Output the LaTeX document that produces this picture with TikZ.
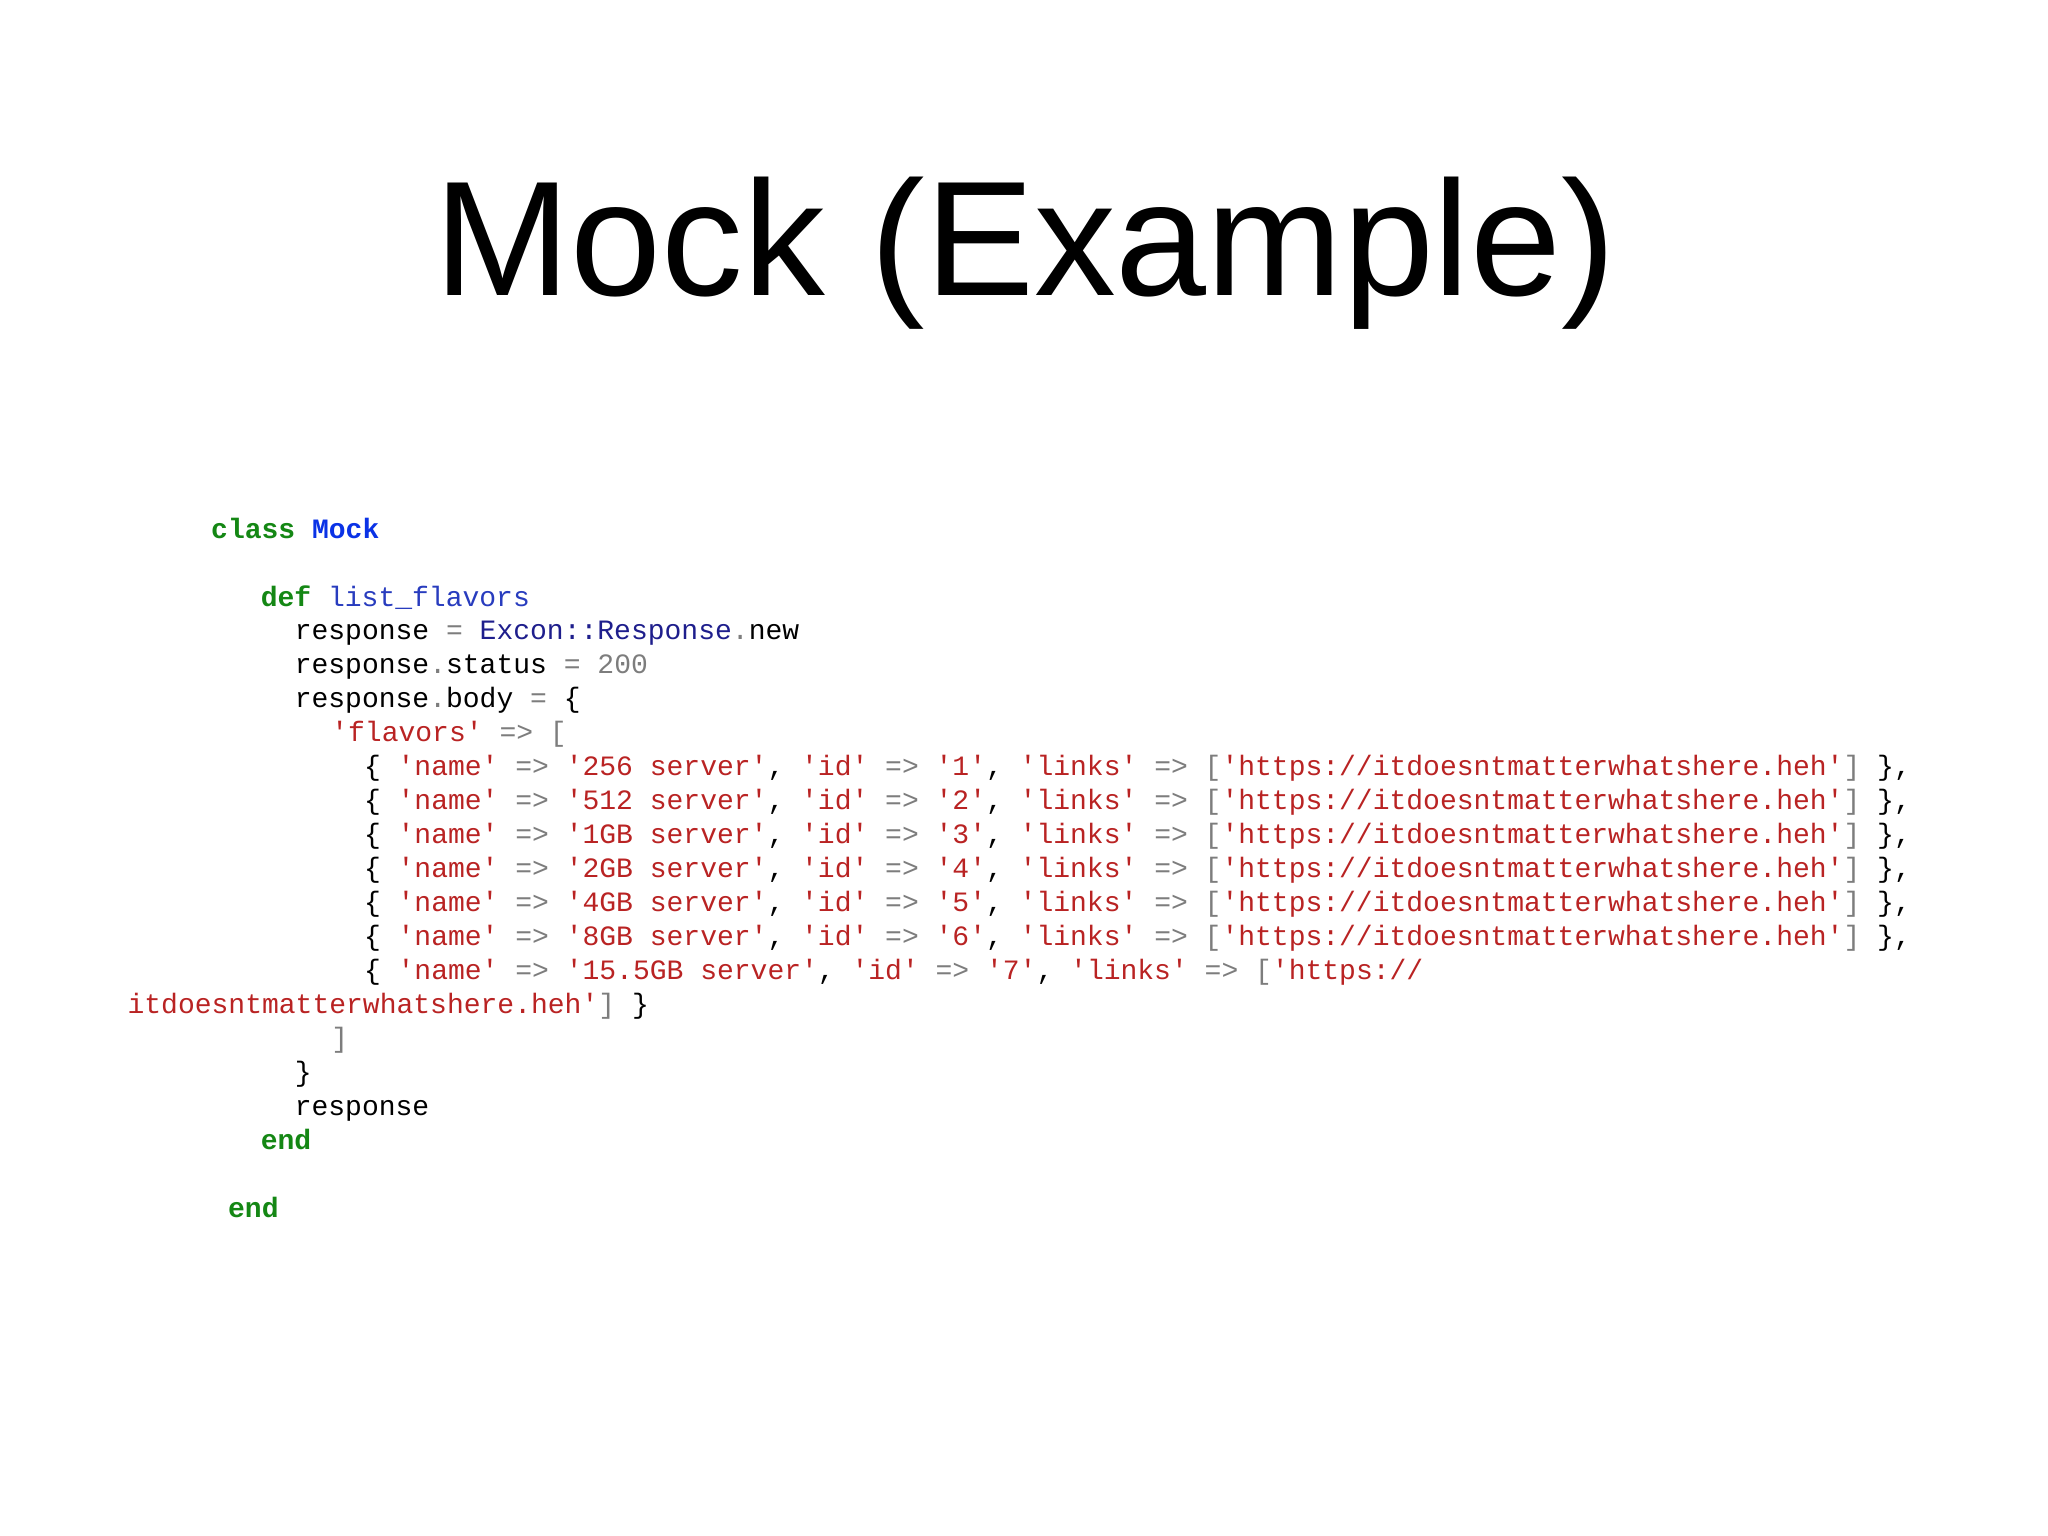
\documentclass[tikz,border=0pt]{standalone}
\usepackage{fontspec}
\setmainfont{Liberation Sans}
\newfontfamily\codefont{Liberation Mono}[Ligatures=NoCommon]
\definecolor{kwgreen}{RGB}{20,135,20}
\definecolor{clsblue}{RGB}{10,50,230}
\definecolor{fnblue}{RGB}{40,60,190}
\definecolor{cnblue}{RGB}{30,30,140}
\definecolor{strred}{RGB}{185,35,35}
\definecolor{opgray}{RGB}{125,125,125}
\newcommand\qq{\textquotesingle}
\newcommand\kw[1]{\textcolor{kwgreen}{\bfseries #1}}
\newcommand\sr[1]{\textcolor{strred}{\qq#1\qq}}
\newcommand\op[1]{\textcolor{opgray}{#1}}
\newcommand\rowline[2]{\{ \sr{name} \op{=>} \sr{#1}, \sr{id} \op{=>} \sr{#2}, \sr{links} \op{=>} \op{[}\sr{https://itdoesntmatterwhatshere.heh}\op{]} \},}
\begin{document}
\begin{tikzpicture}[x=0.01cm,y=-0.01cm,
  code/.style={anchor=base west,inner sep=0pt,font=\codefont\fontsize{6.1pt}{7pt}\selectfont,text=black}]
\useasboundingbox (0,0) rectangle (1568,1176);
\node[anchor=base,inner sep=0pt,font=\fontsize{35.6pt}{40pt}\selectfont] (title) at (785,226) {Mock (Example)};
\node[code] (l1) at (161,412) {\kw{class} \textcolor{clsblue}{\bfseries Mock}};
\node[code] (l2) at (199,464) {\kw{def} \textcolor{fnblue}{list\_flavors}};
\node[code] (l3) at (225,490) {response \op{=} \textcolor{cnblue}{Excon::Response}\op{.}new};
\node[code] (l4) at (225,516) {response\op{.}status \op{=} \op{200}};
\node[code] (l5) at (225,542) {response\op{.}body \op{=} \{};
\node[code] (l6) at (253,568) {\sr{flavors} \op{=> [}};
\node[code] (r1) at (278,594) {\rowline{256 server}{1}};
\node[code] (r2) at (278,620) {\rowline{512 server}{2}};
\node[code] (r3) at (278,646) {\rowline{1GB server}{3}};
\node[code] (r4) at (278,672) {\rowline{2GB server}{4}};
\node[code] (r5) at (278,698) {\rowline{4GB server}{5}};
\node[code] (r6) at (278,724) {\rowline{8GB server}{6}};
\node[code] (r7) at (278,750) {\{ \sr{name} \op{=>} \sr{15.5GB server}, \sr{id} \op{=>} \sr{7}, \sr{links} \op{=>} \op{[}\textcolor{strred}{\qq https://}};
\node[code] (r7b) at (97,776) {\textcolor{strred}{itdoesntmatterwhatshere.heh\qq}\op{]} \}};
\node[code] (l7) at (253,802) {\op{]}};
\node[code] (l8) at (225,828) {\}};
\node[code] (l9) at (225,854) {response};
\node[code] (l10) at (199,880) {\kw{end}};
\node[code] (l11) at (174,932) {\kw{end}};
\end{tikzpicture}
\end{document}
